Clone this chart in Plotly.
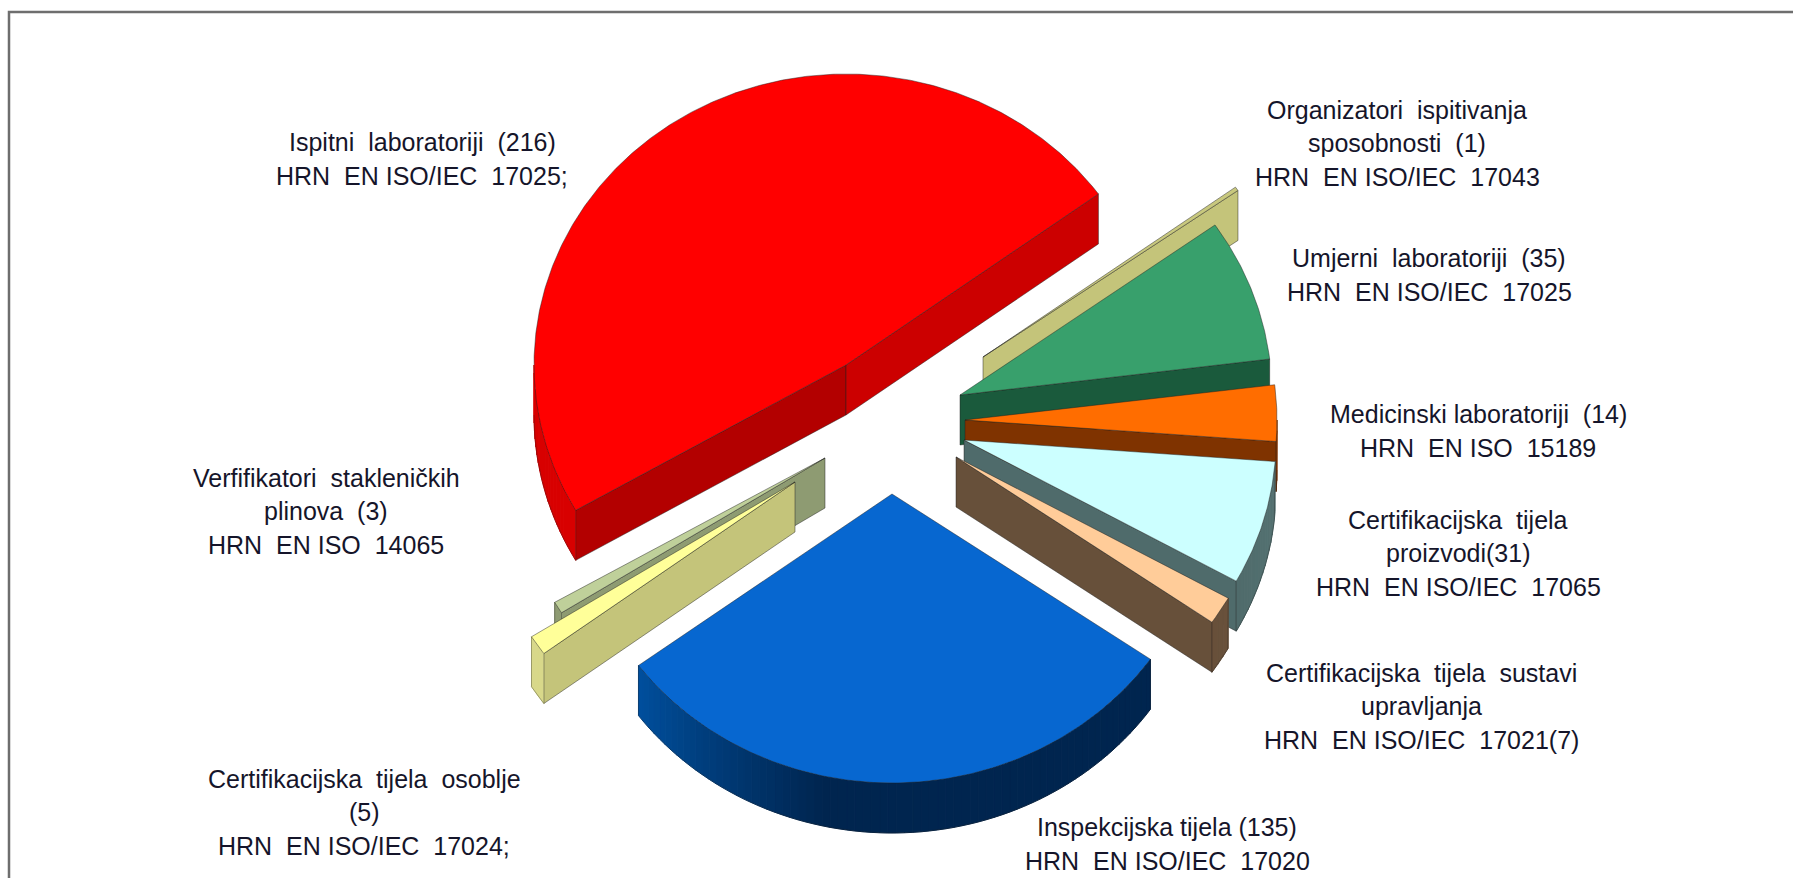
import numpy as np
import plotly.graph_objects as go

# --- data -------------------------------------------------------------
categories = ["Organizatori ispitivanja sposobnosti", "Umjerni laboratoriji", "Medicinski laboratoriji",
              "Certifikacijska tijela proizvodi", "Certifikacijska tijela sustavi upravljanja",
              "Inspekcijska tijela", "Certifikacijska tijela osoblje", "Verifikatori stakleničkih plinova",
              "Ispitni laboratoriji"]
values = [1, 35, 14, 31, 7, 135, 5, 3, 216]

labels = [
    ["Organizatori\u00a0\u00a0ispitivanja", "sposobnosti\u00a0\u00a0(1)", "HRN\u00a0\u00a0EN\u00a0ISO/IEC\u00a0\u00a017043"],
    ["Umjerni\u00a0\u00a0laboratoriji\u00a0\u00a0(35)", "HRN\u00a0\u00a0EN\u00a0ISO/IEC\u00a0\u00a017025"],
    ["Medicinski\u00a0laboratoriji\u00a0\u00a0(14)", "HRN\u00a0\u00a0EN\u00a0ISO\u00a0\u00a015189"],
    ["Certifikacijska\u00a0\u00a0tijela", "proizvodi(31)", "HRN\u00a0\u00a0EN\u00a0ISO/IEC\u00a0\u00a017065"],
    ["Certifikacijska\u00a0\u00a0tijela\u00a0\u00a0sustavi", "upravljanja", "HRN\u00a0\u00a0EN\u00a0ISO/IEC\u00a0\u00a017021(7)"],
    ["Inspekcijska\u00a0tijela\u00a0(135)", "HRN\u00a0\u00a0EN\u00a0ISO/IEC\u00a0\u00a017020"],
    ["Certifikacijska\u00a0\u00a0tijela\u00a0\u00a0osoblje", "(5)", "HRN\u00a0\u00a0EN\u00a0ISO/IEC\u00a0\u00a017024;"],
    ["Verfifikatori\u00a0\u00a0stakleničkih", "plinova\u00a0\u00a0(3)", "HRN\u00a0\u00a0EN\u00a0ISO\u00a0\u00a014065"],
    ["Ispitni\u00a0\u00a0laboratoriji\u00a0\u00a0(216)", "HRN\u00a0\u00a0EN\u00a0ISO/IEC\u00a0\u00a017025;"],
]

# --- layout / style (separate from the values) -------------------------
label_x = [1397, 1429, 1478, 1458, 1421, 1167, 364, 326, 422]
label_y = [143, 275, 431, 553, 706, 844, 812, 511, 159]
LINE_GAP = 33.5

# wedge tips: where each exploded slice ends up
tip_x = [983, 960, 965, 964, 956, 892, 795, 825, 846]
tip_y = [357, 395, 420, 440, 457, 494, 482, 458, 365]
radius_x = [312, 312, 312, 312, 312, 315, 312, 312, 312]
radius_y = [289, 295, 289, 289, 289, 289, 289, 289, 291]

top_col = ["#C8C87E", "#38A06C", "#FF6D00", "#CCFFFF", "#FFCC99", "#0767D0", "#FFFF99", "#BFD09A", "#FF0000"]
cut_col = ["#C4C47A", "#1A5A3C", "#7F3300", "#4F6B6B", "#67503A", "#00264F", "#C4C47A", "#8E9B72", "#CC0000"]
cut2_col = ["#C4C47A", "#1A5A3C", "#7F3300", "#4F6B6B", "#67503A", "#004C99", "#C4C47A", "#8E9B72", "#B30000"]
wall_a = ["#C4C47A", "#1A5A3C", "#7F3300", "#5A7878", "#735A42", "#00254F", "#D8D88A", "#8E9B72", "#D80000"]
wall_b = ["#C4C47A", "#1A5A3C", "#7F3300", "#4F6B6B", "#67503A", "#00509F", "#D8D88A", "#8E9B72", "#D80000"]
paint_order = [0, 8, 1, 2, 3, 4, 7, 6, 5]

START_ANGLE = -120 + 174  # clockwise from 12 o'clock, where the first slice starts
DEPTH = 50
RAMP = 42  # degrees over which a wall fades to its second colour at its far end
EDGE = "rgba(30,30,30,0.65)"


def hex_mix(a, b, t):
    ca = [int(a[i:i + 2], 16) for i in (1, 3, 5)]
    cb = [int(b[i:i + 2], 16) for i in (1, 3, 5)]
    return "rgb(%d,%d,%d)" % tuple(round(x + (y - x) * t) for x, y in zip(ca, cb))


def rim(i, deg):
    r = np.radians(deg)
    return tip_x[i] + radius_x[i] * np.sin(r), tip_y[i] - radius_y[i] * np.cos(r)


fig = go.Figure()


def face(xs, ys, fill, line=EDGE, width=0.7):
    xs, ys = list(xs), list(ys)
    fig.add_trace(go.Scatter(x=xs + xs[:1], y=ys + ys[:1], mode="lines", fill="toself",
                             fillcolor=fill, line=dict(color=line, width=width),
                             hoverinfo="skip", showlegend=False))


sweeps = np.array(values) / sum(values) * 360
starts = START_ANGLE + np.concatenate([[0], np.cumsum(sweeps)[:-1]])

for i in paint_order:
    a0, a1 = starts[i], starts[i] + sweeps[i]
    cx, cy = tip_x[i], tip_y[i]
    # cut faces, visible depending on which way they look
    if np.sin(np.radians(a0)) < 0:
        x, y = rim(i, a0)
        face([cx, x, x, cx], [cy, y, y + DEPTH, cy + DEPTH], cut2_col[i])
    if np.sin(np.radians(a1)) > 0:
        x, y = rim(i, a1)
        face([cx, x, x, cx], [cy, y, y + DEPTH, cy + DEPTH], cut_col[i])
    # outer wall: only the front half of the rim shows
    w0, w1 = max(a0, 90), min(a1, 270)
    if w1 > w0:
        n = max(1, int((w1 - w0) / 1.5))
        edges = np.linspace(w0, w1, n + 1)
        for k in range(n):
            arc = np.linspace(edges[k], edges[k + 1], 3)
            xs, ys = rim(i, arc)
            t = min(1, max(0, (edges[k] - (w1 - RAMP)) / RAMP))
            col = hex_mix(wall_a[i], wall_b[i], t)
            face(np.r_[xs, xs[::-1]], np.r_[ys, ys[::-1] + DEPTH], col, line=col, width=1)
        xs, ys = rim(i, np.linspace(w0, w1, 80))
        path_x, path_y = list(xs), list(ys + DEPTH)
        if w0 > 90:
            path_x.insert(0, xs[0]); path_y.insert(0, ys[0])
        if w1 < 270:
            path_x.append(xs[-1]); path_y.append(ys[-1])
        fig.add_trace(go.Scatter(x=path_x, y=path_y, mode="lines", line=dict(color=EDGE, width=0.5),
                                 hoverinfo="skip", showlegend=False))
    # top face
    arc = np.arange(a0, a1 + 0.5, 0.5)
    arc = np.r_[arc[arc < a1], a1]
    xs, ys = rim(i, arc)
    face(np.r_[cx, xs], np.r_[cy, ys], top_col[i])

# frame of the picture: left and top sides only reach the picture
fig.add_trace(go.Scatter(x=[9, 9, 1793], y=[878, 12, 12], mode="lines",
                         line=dict(color="#6E6E6E", width=2.5), hoverinfo="skip", showlegend=False))

for lines, x, y in zip(labels, label_x, label_y):
    for k, t in enumerate(lines):
        fig.add_annotation(x=x, y=y + (k - (len(lines) - 1) / 2) * LINE_GAP, xref="x", yref="y", text=t,
                           showarrow=False, align="center",
                           font=dict(family="Liberation Sans, Arial", size=25, color="#15152a"))

fig.update_layout(width=1793, height=878, margin=dict(l=0, r=0, t=0, b=0),
                  paper_bgcolor="white", plot_bgcolor="white", showlegend=False,
                  xaxis=dict(range=[0, 1793], visible=False, fixedrange=True),
                  yaxis=dict(range=[878, 0], visible=False, fixedrange=True))

fig.write_html("out.html", post_script="document.body.style.margin='0';document.body.style.overflow='hidden';",
               config={"displayModeBar": False})
